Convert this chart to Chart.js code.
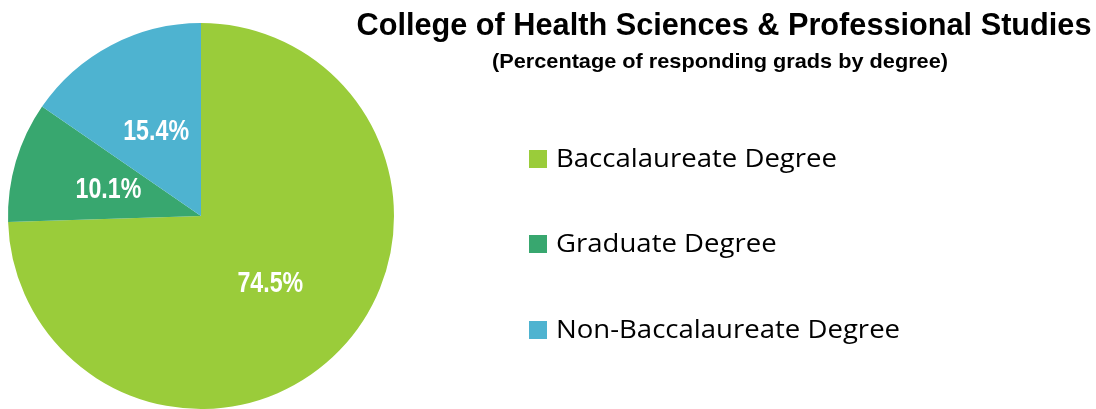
<!DOCTYPE html>
<html>
<head>
<meta charset="utf-8">
<script src="https://cdn.jsdelivr.net/npm/chart.js@4/dist/chart.umd.min.js"></script>
<style>
  html, body { margin: 0; padding: 0; background: #fff; }
  #wrap { position: relative; width: 1096px; height: 409px; }
</style>
</head>
<body>
<div id="wrap"><canvas id="degreeChart" width="1096" height="409"></canvas></div>
<script>
const categories = ['Baccalaureate Degree', 'Graduate Degree', 'Non-Baccalaureate Degree'];
const percentages = [74.5, 10.1, 15.4];
const sliceColors = ['#9acc3a', '#38a76f', '#4eb3d0'];
const titleText = 'College of Health Sciences & Professional Studies';
const subtitleText = '(Percentage of responding grads by degree)';

const headFont = '"Liberation Sans", Arial, sans-serif';
const legendFont = '"Open Sans", "Noto Sans", sans-serif';

// draw text squeezed/stretched sideways by sx (no narrow font installed)
function scaledText(ctx, text, x, y, font, sx) {
    ctx.save();
    ctx.font = font;
    ctx.translate(x, y);
    ctx.scale(sx, 1);
    ctx.fillText(text, 0, 0);
    ctx.restore();
}

// scale needed so text fills a given width
function fitScale(ctx, text, font, width) {
    ctx.save();
    ctx.font = font;
    const w = ctx.measureText(text).width;
    ctx.restore();
    return width / w;
}

// Percent labels in the middle of each slice
const sliceLabels = {
    id: 'sliceLabels',
    afterDatasetsDraw(chart) {
        const ctx = chart.ctx;
        const meta = chart.getDatasetMeta(0);
        ctx.save();
        ctx.fillStyle = '#ffffff';
        ctx.textAlign = 'center';
        ctx.textBaseline = 'middle';
        meta.data.forEach((arc, i) => {
            const pos = arc.tooltipPosition();
            scaledText(ctx, percentages[i].toFixed(1) + '%', pos.x, pos.y + 1, 'bold 29px ' + headFont, 0.8);
        });
        ctx.restore();
    }
};

// Title, subtitle and legend on the right side
const sideText = {
    id: 'sideText',
    afterDraw(chart) {
        const ctx = chart.ctx;
        ctx.save();
        ctx.fillStyle = '#000';
        ctx.textAlign = 'center';
        ctx.textBaseline = 'alphabetic';

        const tFont = 'bold 32px ' + headFont;
        scaledText(ctx, titleText, 724, 35, tFont, fitScale(ctx, titleText, tFont, 735));
        const sFont = 'bold 21px ' + headFont;
        scaledText(ctx, subtitleText, 720, 68, sFont, fitScale(ctx, subtitleText, sFont, 456));

        ctx.textAlign = 'left';
        ctx.textBaseline = 'alphabetic';
        const lFont = '25px ' + legendFont;
        const lScale = fitScale(ctx, categories[0], lFont, 281);
        const rowY = [159, 244, 330];
        categories.forEach((name, i) => {
            ctx.fillStyle = sliceColors[i];
            ctx.fillRect(529, rowY[i] - 9, 18, 18);
            ctx.fillStyle = '#000';
            scaledText(ctx, name, 556, rowY[i] + 8, lFont, lScale);
        });
        ctx.restore();
    }
};

new Chart(document.getElementById('degreeChart'), {
    type: 'pie',
    data: {
        labels: categories,
        datasets: [{
            data: percentages,
            backgroundColor: sliceColors,
            borderWidth: 0
        }]
    },
    options: {
        responsive: false,
        animation: false,
        layout: {
            padding: { left: 8, top: 23, right: 702, bottom: 0 }
        },
        plugins: {
            legend: { display: false },
            tooltip: { enabled: false }
        }
    },
    plugins: [sliceLabels, sideText]
});
</script>
</body>
</html>
